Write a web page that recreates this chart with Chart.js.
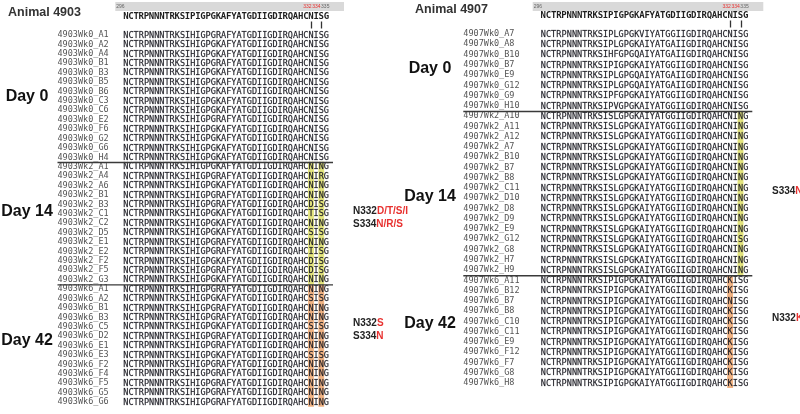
<!DOCTYPE html>
<html>
<head>
<meta charset="utf-8">
<script src="https://cdn.jsdelivr.net/npm/chart.js@4.4.0/dist/chart.umd.min.js"></script>
<style>
  html, body { margin: 0; padding: 0; background: #fff; }
  #wrap { position: relative; width: 800px; height: 414px; overflow: hidden; }
  canvas { position: absolute; top: 0; }
  #left { left: 0; }
  #right { left: 400px; }
</style>
</head>
<body>
<div id="wrap">
  <canvas id="left" width="420" height="414"></canvas>
  <canvas id="right" width="400" height="414"></canvas>
</div>
<script>
'use strict';

// alignment positions 296..335
const firstSite = 296;
const refSeq = 'NCTRPNNNTRKSIPIGPGKAFYATGDIIGDIRQAHCNISG';
const headerTicks = [296, 332, 334, 335];
const markedSites = [332, 334];

// ---- Animal 4903 ----
const names4903Day0 = ['4903Wk0_A1', '4903Wk0_A2', '4903Wk0_A4', '4903Wk0_B1', '4903Wk0_B3', '4903Wk0_B5', '4903Wk0_B6',
  '4903Wk0_C3', '4903Wk0_C6', '4903Wk0_E2', '4903Wk0_F6', '4903Wk0_G2', '4903Wk0_G6', '4903Wk0_H4'];
const seqs4903Day0 = [
  'NCTRPNNNTRKSIHIGPGRAFYATGDIIGDIRQAHCNISG',
  'NCTRPNNNTRKSIHIGPGKAFYATGDIIGDIRQAHCNISG',
  'NCTRPNNNTRKSIHIGPGKAFYATGDIIGDIRQAHCNISG',
  'NCTRPNNNTRKSIHIGPGRAFYATGDIIGDIRQAHCNISG',
  'NCTRPNNNTRKSIHIGPGKAFYATGDIIGDIRQAHCNISG',
  'NCTRPNNNTRKSIHIGPGKAFYATGDIIGDIRQAHCNISG',
  'NCTRPNNNTRKSIHIGPGKAFYATGDIIGDIRQAHCNISG',
  'NCTRPNNNTRKSIHIGPGKAFYATGDIIGDIRQAHCNISG',
  'NCTRPNNNTRKSIHIGPGKAFYATGDIIGDIRQAHCNISG',
  'NCTRPNNNTRKSIHIGPGRAFYATGDIIGDIRQAHCNISG',
  'NCTRPNNNTRKSIHIGPGKAFYATGDIIGDIRQAHCNISG',
  'NCTRPNNNTRKSIHIGPGKAFYATGDIIGDIRQAHCNISG',
  'NCTRPNNNTRKSIHIGPGKAFYATGDIIGDIRQAHCNISG',
  'NCTRPNNNTRKSIHIGPGKAFYATGDIIGDIRQAHCNISG'];

const names4903Day14 = ['4903Wk2_A1', '4903Wk2_A4', '4903Wk2_A6', '4903Wk2_B1', '4903Wk2_B3', '4903Wk2_C1', '4903Wk2_C2',
  '4903Wk2_D5', '4903Wk2_E1', '4903Wk2_E2', '4903Wk2_F2', '4903Wk2_F5', '4903Wk2_G3'];
const seqs4903Day14 = [
  'NCTRPNNNTRKSIHIGPGKAFYATGDIIGDIRQAHCNING',
  'NCTRPNNNTRKSIHIGPGRAFYATGDIIGDIRQAHCNIRG',
  'NCTRPNNNTRKSIHIGPGKAFYATGDIIGDIRQAHCNING',
  'NCTRPNNNTRKSIHIGPGRAFYATGDIIGDIRQAHCNING',
  'NCTRPNNNTRKSIHIGPGRAFYATGDIIGDIRQAHCDISG',
  'NCTRPNNNTRKSIHIGPGKAFYATGDIIGDIRQAHCTISG',
  'NCTRPNNNTRKSIHIGPGKAFYATGDIIGDIRQAHCNING',
  'NCTRPNNNTRKSIHIGPGKAFYATGDIIGDIRQAHCSISG',
  'NCTRPNNNTRKSIHIGPGRAFYATGDIIGDIRQAHCNING',
  'NCTRPNNNTRKSIHIGPGRAFYATGDIIGDIRQAHCIISG',
  'NCTRPNNNTRKSIHIGPGKAFYATGDIIGDIRQAHCDISG',
  'NCTRPNNNTRKSIHIGPGRAFYATGDIIGDIRQAHCDISG',
  'NCTRPNNNTRKSIHIGPGKAFYATGDIIGDIRQAHCNING'];

const names4903Day42 = ['4903Wk6_A1', '4903Wk6_A2', '4903Wk6_B1', '4903Wk6_B3', '4903Wk6_C5', '4903Wk6_D2', '4903Wk6_E1',
  '4903Wk6_E3', '4903Wk6_F2', '4903Wk6_F4', '4903Wk6_F5', '4903Wk6_G5', '4903Wk6_G6'];
const seqs4903Day42 = [
  'NCTRPNNNTRKSIHIGPGRAFYATGDIIGDIRQAHCNING',
  'NCTRPNNNTRKSIHIGPGKAFYATGDIIGDIRQAHCSISG',
  'NCTRPNNNTRKSIHIGPGRAFYATGDIIGDIRQAHCNING',
  'NCTRPNNNTRKSIHIGPGRAFYATGDIIGDIRQAHCNING',
  'NCTRPNNNTRKSIHIGPGKAFYATGDIIGDIRQAHCSISG',
  'NCTRPNNNTRKSIHIGPGRAFYATGDIIGDIRQAHCNING',
  'NCTRPNNNTRKSIHIGPGRAFYATGDIIGDIRQAHCNING',
  'NCTRPNNNTRKSIHIGPGKAFYATGDIIGDIRQAHCSISG',
  'NCTRPNNNTRKSIHIGPGRAFYATGDIIGDIRQAHCNING',
  'NCTRPNNNTRKSIHIGPGRAFYATGDIIGDIRQAHCNING',
  'NCTRPNNNTRKSIHIGPGRAFYATGDIIGDIRQAHCNING',
  'NCTRPNNNTRKSIHIGPGRAFYATGDIIGDIRQAHCNING',
  'NCTRPNNNTRKSIHIGPGRAFYATGDIIGDIRQAHCNING'];

// ---- Animal 4907 ----
const names4907Day0 = ['4907Wk0_A7', '4907Wk0_A8', '4907Wk0_B10', '4907Wk0_B7', '4907Wk0_E9', '4907Wk0_G12', '4907Wk0_G9', '4907Wk0_H10'];
const seqs4907Day0 = [
  'NCTRPNNNTRKSIPLGPGKVIYATGGIIGDIRQAHCNISG',
  'NCTRPNNNTRKSIPLGPGKAIYATGAIIGDIRQAHCNISG',
  'NCTRPNNNTRKSIHFGPGQAIYATGAIIGDIRQAHCNISG',
  'NCTRPNNNTRKSIPIGPGKAIYATGGIIGDIRQAHCNISG',
  'NCTRPNNNTRKSIPLGPGQAIYATGAIIGDIRQAHCNISG',
  'NCTRPNNNTRKSIPLGPGQAIYATGAIIGDIRQAHCNISG',
  'NCTRPNNNTRKSIPFGPGKAIYATGGIIGDIRQAHCNISG',
  'NCTRPNNNTRKSIPVGPGKAIYATGGIIGDIRQAHCNISG'];

const names4907Day14 = ['4907Wk2_A10', '4907Wk2_A11', '4907Wk2_A12', '4907Wk2_A7', '4907Wk2_B10', '4907Wk2_B7', '4907Wk2_B8', '4907Wk2_C11',
  '4907Wk2_D10', '4907Wk2_D8', '4907Wk2_D9', '4907Wk2_E9', '4907Wk2_G12', '4907Wk2_G8', '4907Wk2_H7', '4907Wk2_H9'];
const seqs4907Day14 = [
  'NCTRPNNNTRKSISLGPGKAIYATGGIIGDIRQAHCNING',
  'NCTRPNNNTRKSISLGPGKAIYATGGIIGDIRQAHCNING',
  'NCTRPNNNTRKSISLGPGKAIYATGGIIGDIRQAHCNING',
  'NCTRPNNNTRKSISLGPGKAIYATGGIIGDIRQAHCNING',
  'NCTRPNNNTRKSISLGPGKAIYATGGIIGDIRQAHCNING',
  'NCTRPNNNTRKSISLGPGKAIYATGGIIGDIRQAHCNING',
  'NCTRPNNNTRKSISLGPGKAIYATGGIIGDIRQAHCNING',
  'NCTRPNNNTRKSISLGPGKAIYATGGIIGDIRQAHCNING',
  'NCTRPNNNTRKSISLGPGKAIYATGGIIGDIRQAHCNING',
  'NCTRPNNNTRKSISLGPGKAIYATGGIIGDIRQAHCNING',
  'NCTRPNNNTRKSISLGPGKAIYATGGIIGDIRQAHCNING',
  'NCTRPNNNTRKSISLGPGKAIYATGGIIGDIRQAHCNING',
  'NCTRPNNNTRKSISLGPGKAIYATGGIIGDIRQAHCNISG',
  'NCTRPNNNTRKSISLGPGKAIYATGGIIGDIRQAHCNING',
  'NCTRPNNNTRKSISLGPGKAIYATGGIIGDIRQAHCNING',
  'NCTRPNNNTRKSISLGPGKAIYATGGIIGDIRQAHCNING'];

const names4907Day42 = ['4907Wk6_A11', '4907Wk6_B12', '4907Wk6_B7', '4907Wk6_B8', '4907Wk6_C10', '4907Wk6_C11',
  '4907Wk6_E9', '4907Wk6_F12', '4907Wk6_F7', '4907Wk6_G8', '4907Wk6_H8'];
const seqs4907Day42 = [
  'NCTRPNNNTRKSIPIGPGKAIYATGGIIGDIRQAHCKISG',
  'NCTRPNNNTRKSIPIGPGKAIYATGGIIGDIRQAHCKISG',
  'NCTRPNNNTRKSIPIGPGKAIYATGGIIGDIRQAHCNISG',
  'NCTRPNNNTRKSIPIGPGKAIYATGGIIGDIRQAHCKISG',
  'NCTRPNNNTRKSIPIGPGKAIYATGGIIGDIRQAHCKISG',
  'NCTRPNNNTRKSIPIGPGKAIYATGGIIGDIRQAHCKISG',
  'NCTRPNNNTRKSIPIGPGKAIYATGGIIGDIRQAHCKISG',
  'NCTRPNNNTRKSIPIGPGKAIYATGGIIGDIRQAHCKISG',
  'NCTRPNNNTRKSIPIGPGKAIYATGGIIGDIRQAHCKISG',
  'NCTRPNNNTRKSIPIGPGKAIYATGGIIGDIRQAHCKISG',
  'NCTRPNNNTRKSIPIGPGKAIYATGGIIGDIRQAHCKISG'];

// highlighted columns and notes per group
const sites4903 = [[], [332, 334], [332, 334]];
const sites4907 = [[], [334], [332]];
const notes4903 = [[], [['N332', 'D/T/S/I'], ['S334', 'N/R/S']], [['N332', 'S'], ['S334', 'N']]];
const notes4907 = [[], [['S334', 'N']], [['N332', 'K']]];
const dayLabels = ['Day 0', 'Day 14', 'Day 42'];

const toneColors = ['rgba(0,0,0,0)', '#e4e57e', '#f1b383'];
const monoFont = '"DejaVu Sans Mono", monospace';
const sansFont = '"Liberation Sans", Arial, sans-serif';

function buildPanel(canvasId, title, nameLists, seqLists, sites, notes, look) {
  const names = [].concat(...nameLists);
  const seqs = [].concat(...seqLists);
  const starts = [];
  let n = 0;
  nameLists.forEach(l => { starts.push(n); n += l.length; });

  const datasets = [];
  nameLists.forEach((l, gi) => {
    sites[gi].forEach(site => {
      datasets.push({
        data: names.map((_, i) => (i >= starts[gi] && i < starts[gi] + l.length) ? [site - 0.5, site + 0.5] : null),
        backgroundColor: toneColors[gi],
        borderWidth: 0,
        barPercentage: 1,
        categoryPercentage: 1,
        grouped: false
      });
    });
  });

  const lastSite = firstSite + refSeq.length - 1;

  const alignmentPlugin = {
    id: 'alignment',
    afterDatasetsDraw(chart) {
      const ctx = chart.ctx;
      const xs = chart.scales.x;
      const ys = chart.scales.y;
      const area = chart.chartArea;
      ctx.save();
      ctx.textBaseline = 'middle';

      // residues
      ctx.font = '8.5px ' + monoFont;
      ctx.fillStyle = '#1c1c24';
      ctx.strokeStyle = 'rgba(28,28,36,0.45)';
      ctx.lineWidth = 0.35;
      ctx.textAlign = 'center';
      seqs.forEach((s, i) => {
        const y = ys.getPixelForValue(i);
        for (let j = 0; j < s.length; j++) {
          const x = xs.getPixelForValue(firstSite + j);
          ctx.fillText(s[j], x, y + 0.5);
          ctx.strokeText(s[j], x, y + 0.5);
        }
      });

      // group separators
      ctx.strokeStyle = '#3a3a3a';
      ctx.lineWidth = 1.4;
      starts.slice(1).forEach(st => {
        const y = (ys.getPixelForValue(st - 1) + ys.getPixelForValue(st)) / 2 + 0.5;
        ctx.beginPath();
        ctx.moveTo(look.padLeft, y);
        ctx.lineTo(area.right + 4, y);
        ctx.stroke();
      });

      // header bar with positions
      ctx.fillStyle = '#d9d9d9';
      ctx.fillRect(area.left - 8, 2, area.right - area.left + 23, 9);
      ctx.font = '5px ' + sansFont;
      ctx.fillStyle = '#666';
      ctx.textAlign = 'left';
      ctx.fillText(String(headerTicks[0]), area.left - 7, 6.5);
      let hx = xs.getPixelForValue(lastSite) + 3;
      ctx.textAlign = 'right';
      headerTicks.slice(1).reverse().forEach(t => {
        ctx.fillStyle = markedSites.includes(t) ? '#e8312f' : '#666';
        ctx.fillText(String(t), hx, 6.5);
        hx -= ctx.measureText(String(t)).width + 0.6;
      });

      // reference sequence
      ctx.font = 'bold 9px ' + monoFont;
      ctx.fillStyle = '#1e1e1e';
      ctx.textAlign = 'center';
      for (let j = 0; j < refSeq.length; j++) {
        ctx.fillText(refSeq[j], xs.getPixelForValue(firstSite + j), look.refY);
      }
      ctx.strokeStyle = '#333';
      ctx.lineWidth = 1.3;
      markedSites.forEach(s => {
        const x = Math.round(xs.getPixelForValue(s)) + 0.5;
        ctx.beginPath();
        ctx.moveTo(x, look.markY);
        ctx.lineTo(x, look.markY + 7);
        ctx.stroke();
      });

      // title
      ctx.font = 'bold 12.5px ' + sansFont;
      ctx.fillStyle = '#333';
      ctx.textAlign = 'left';
      ctx.fillText(title, look.titleX, look.titleY);

      // day labels
      ctx.font = 'bold 16px ' + sansFont;
      ctx.fillStyle = '#111';
      ctx.textAlign = 'center';
      dayLabels.forEach((d, gi) => {
        ctx.fillText(d, look.dayX, ys.getPixelForValue(look.dayAt[gi]));
      });

      // mutation notes
      ctx.font = 'bold 10px ' + sansFont;
      ctx.textAlign = 'left';
      notes.forEach((lines, gi) => {
        const yc = ys.getPixelForValue(look.noteAt[gi]);
        lines.forEach((pair, k) => {
          const y = yc + (k - (lines.length - 1) / 2) * 13;
          ctx.fillStyle = '#222';
          ctx.fillText(pair[0], look.noteX, y);
          const w = ctx.measureText(pair[0]).width;
          ctx.fillStyle = '#e8312f';
          ctx.fillText(pair[1], look.noteX + w, y);
        });
      });
      ctx.restore();
    }
  };

  new Chart(document.getElementById(canvasId), {
    type: 'bar',
    data: { labels: names, datasets: datasets },
    options: {
      indexAxis: 'y',
      responsive: false,
      animation: false,
      layout: {
        padding: { left: look.padLeft, right: look.width - look.plotRight, top: look.top, bottom: 414 - look.bottom }
      },
      plugins: { legend: { display: false }, tooltip: { enabled: false } },
      scales: {
        x: { type: 'linear', display: false, min: firstSite - 0.5, max: lastSite + 0.5 },
        y: {
          position: 'left',
          grid: { display: false },
          border: { display: false },
          afterFit: scale => { scale.width = look.plotLeft - look.padLeft; },
          ticks: {
            autoSkip: false,
            crossAlign: 'far',
            padding: 0,
            color: '#555',
            font: { family: monoFont, size: 8.5 }
          }
        }
      }
    },
    plugins: [alignmentPlugin]
  });
}

buildPanel('left', 'Animal 4903',
  [names4903Day0, names4903Day14, names4903Day42],
  [seqs4903Day0, seqs4903Day14, seqs4903Day42],
  sites4903, notes4903,
  { width: 420, padLeft: 57.5, plotLeft: 123.3, plotRight: 329, top: 30.3, bottom: 406.7,
    refY: 16.5, markY: 21.5, titleX: 8, titleY: 13, dayX: 27, dayAt: [6.5, 18.8, 32.5], noteX: 353, noteAt: [0, 19.4, 31.3] });

buildPanel('right', 'Animal 4907',
  [names4907Day0, names4907Day14, names4907Day42],
  [seqs4907Day0, seqs4907Day14, seqs4907Day42],
  sites4907, notes4907,
  { width: 400, padLeft: 63.3, plotLeft: 140.7, plotRight: 348.3, top: 28.9, bottom: 388.1,
    refY: 15.5, markY: 20.5, titleX: 15, titleY: 10, dayX: 30, dayAt: [3.4, 15.8, 28.2], noteX: 372, noteAt: [0, 15.3, 27.7] });
</script>
</body>
</html>
